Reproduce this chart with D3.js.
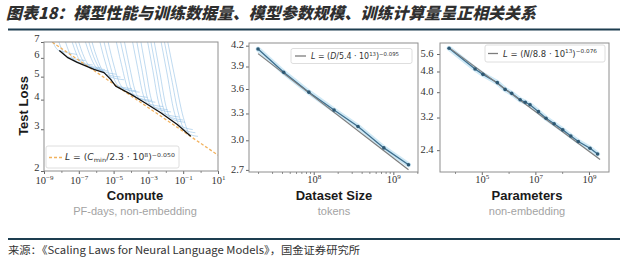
<!DOCTYPE html>
<html><head><meta charset="utf-8">
<script src="https://cdn.jsdelivr.net/npm/d3@7"></script>
<style>
html,body{margin:0;padding:0;background:#fff;}
svg{display:block;}
</style></head><body>
<svg id="chart" width="627" height="264"></svg>
<script>
// ---------- text ----------
const titleText = "图表18：模型性能与训练数据量、模型参数规模、训练计算量呈正相关关系";
const sourceText = "来源：《Scaling Laws for Neural Language Models》，国金证券研究所";

// ---------- Compute panel ----------
const computeTickExp = [-9, -7, -5, -3, -1, 1];
const computeMinorExp = [-8, -6, -4, -2, 0];
const computeLossTicks = [2, 3, 4, 5, 6, 7];
// compute-efficient frontier: log10(PF-days), test loss
const frontierExp  = [-8.12, -7.66, -7.09, -6.13, -5.55, -5.17, -4.88, -4.02, -3.25, -2.29, -1.34, -0.57];
const frontierLoss = [6.45, 6.03, 5.74, 5.37, 5.20, 4.87, 4.56, 4.22, 3.90, 3.52, 3.14, 2.80];
// learning curves of individual models: [log10(PF-days), test loss]
const learningCurves = [
  [[-8.70,7.8],[-8.40,6.78],[-8.18,6.46],[-8.00,6.40],[-7.10,6.20]],
  [[-8.34,7.8],[-8.00,6.57],[-7.76,6.14],[-7.55,6.04],[-6.65,5.85]],
  [[-7.95,7.8],[-7.59,6.44],[-7.33,5.93],[-7.10,5.80],[-6.20,5.60]],
  [[-7.57,7.8],[-7.18,6.35],[-6.90,5.78],[-6.65,5.63],[-5.75,5.45]],
  [[-7.38,7.8],[-6.98,6.30],[-6.68,5.70],[-6.42,5.50],[-5.50,5.36]],
  [[-7.19,7.8],[-6.78,6.26],[-6.47,5.63],[-6.20,5.45],[-5.30,5.28]],
  [[-6.80,7.8],[-6.37,6.18],[-6.04,5.51],[-5.75,5.32],[-4.85,5.12]],
  [[-6.60,7.8],[-6.15,6.08],[-5.80,5.40],[-5.50,5.15],[-4.60,4.98]],
  [[-6.42,7.8],[-5.96,6.02],[-5.61,5.26],[-5.30,5.03],[-4.40,4.85]],
  [[-5.94,7.8],[-5.49,5.79],[-5.15,4.88],[-4.85,4.60],[-3.95,4.45]],
  [[-5.70,7.8],[-5.25,5.74],[-4.92,4.80],[-4.62,4.50],[-3.70,4.36]],
  [[-5.46,7.8],[-5.02,5.71],[-4.69,4.75],[-4.40,4.44],[-3.50,4.30]],
  [[-4.98,7.8],[-4.55,5.63],[-4.23,4.55],[-3.95,4.23],[-3.05,4.09]],
  [[-4.74,7.8],[-4.30,5.58],[-4.00,4.44],[-3.72,4.10],[-2.80,3.97]],
  [[-4.50,7.8],[-4.09,5.54],[-3.77,4.38],[-3.50,4.04],[-2.60,3.90]],
  [[-4.03,7.8],[-3.62,5.45],[-3.31,4.22],[-3.05,3.86],[-2.15,3.74]],
  [[-3.78,7.8],[-3.38,5.40],[-3.08,4.12],[-2.82,3.76],[-1.90,3.63]],
  [[-3.54,7.8],[-3.15,5.37],[-2.85,4.06],[-2.60,3.68],[-1.70,3.55]],
  [[-3.16,7.8],[-2.74,5.29],[-2.42,3.91],[-2.15,3.51],[-1.25,3.38]],
  [[-2.97,7.8],[-2.54,5.24],[-2.20,3.83],[-1.92,3.42],[-1.00,3.28]],
  [[-2.78,7.8],[-2.34,5.19],[-1.99,3.75],[-1.70,3.33],[-0.90,3.21]],
  [[-2.39,7.8],[-1.91,5.07],[-1.53,3.58],[-1.20,3.12],[-0.45,2.99]],
  [[-2.20,7.8],[-1.68,4.95],[-1.26,3.47],[-0.90,2.98],[-0.30,2.90]],
  [[-2.01,7.8],[-1.45,4.84],[-0.99,3.36],[-0.60,2.85],[-0.15,2.80]]
];
const computeFit = {scale: 2.3e8, exponent: 0.050};

// ---------- Dataset size panel ----------
const datasetTokens = [2.0e7, 4.2e7, 8.7e7, 1.8e8, 3.6e8, 7.6e8, 1.55e9];
const datasetLoss   = [4.15, 3.82, 3.56, 3.34, 3.15, 2.92, 2.75];
const datasetTickExp = [8, 9];
const datasetLossTicks = [2.7, 3.0, 3.3, 3.6, 3.9, 4.2];
const datasetFit = {scale: 5.4e13, exponent: 0.095};

// ---------- Parameters panel ----------
const paramCounts = [6.0e3, 5.6e4, 1.1e5, 3.8e5, 7.4e5, 1.3e6, 2.7e6, 4.2e6, 6.3e6,
                     1.3e7, 2.5e7, 5.0e7, 1.05e8, 2.1e8, 4.0e8, 1.1e9, 2.1e9];
const paramLoss   = [5.89, 4.91, 4.68, 4.35, 4.10, 3.96, 3.74, 3.66, 3.58,
                     3.37, 3.18, 3.03, 2.87, 2.72, 2.59, 2.44, 2.32];
const paramTickExp = [5, 7, 9];
const paramLossTicks = [2.4, 3.2, 4.0, 4.8, 5.6];
const paramFit = {scale: 8.8e13, exponent: 0.076};

// ---------- drawing ----------
const svg = d3.select("#chart");
svg.append("rect").attr("width", 627).attr("height", 264).attr("fill", "#fff");

const SERIF = "'Liberation Serif', 'DejaVu Serif', serif";
const SANS = "'Liberation Sans', Arial, sans-serif";
const CJK = "'Noto Sans CJK SC', sans-serif";

// header
svg.append("text")
  .attr("x", 6).attr("y", 19)
  .attr("font-family", CJK).attr("font-weight", 900).attr("font-style", "italic")
  .attr("font-size", 16).attr("fill", "#2f2f2f")
  .attr("textLength", 530).attr("lengthAdjust", "spacingAndGlyphs")
  .text(titleText);
svg.append("line").attr("x1", 8).attr("x2", 620).attr("y1", 29.5).attr("y2", 29.5)
  .attr("stroke", "#1d3d50").attr("stroke-width", 2);

// footer
svg.append("line").attr("x1", 8).attr("x2", 620).attr("y1", 239).attr("y2", 239)
  .attr("stroke", "#1d3d50").attr("stroke-width", 2);
svg.append("text")
  .attr("x", 8).attr("y", 254)
  .attr("font-family", CJK).attr("font-size", 10.5).attr("fill", "#333")
  .attr("textLength", 352).attr("lengthAdjust", "spacingAndGlyphs")
  .text(sourceText);

const fmtExp = n => (n < 0 ? "\u2212" + Math.abs(n) : String(n));

function richText(sel, parts, size) {
  // parts: [text, kind] with kind in "", "i", "sup", "sub"
  let offset = 0;
  parts.forEach(([t, kind]) => {
    const ts = sel.append("tspan").text(t);
    let target = 0;
    if (kind === "sup") { target = -size * 0.42; ts.attr("font-size", size * 0.68); }
    if (kind === "sub") { target = size * 0.25; ts.attr("font-size", size * 0.72); }
    if (kind === "i") ts.attr("font-style", "italic");
    if (target !== offset) { ts.attr("dy", target - offset); offset = target; }
  });
}

function drawPanel(cfg) {
  const g = svg.append("g");
  const {x, y} = cfg;
  const [x0, x1] = x.range();
  const [y1, y0] = y.range();
  const clipId = "clip-" + cfg.id;
  svg.append("clipPath").attr("id", clipId)
    .append("rect").attr("x", x0).attr("y", y0).attr("width", x1 - x0).attr("height", y1 - y0);

  // x axis (major + minor ticks)
  const xa = g.append("g").attr("transform", `translate(0,${y1})`)
    .call(d3.axisBottom(x).tickValues(cfg.xMajor).tickSize(3).tickPadding(cfg.xPad));
  xa.select(".domain").remove();
  xa.selectAll(".tick line").attr("stroke", "#666");
  xa.selectAll(".tick text").attr("font-family", SERIF).attr("font-size", 10.5).attr("fill", "#333")
    .each(function(d) {
      const t = d3.select(this).text(null);
      t.append("tspan").text("10");
      t.append("tspan").attr("dy", -4).attr("font-size", 7)
        .text(fmtExp(Math.round(Math.log10(d))));
    });
  g.append("g").attr("transform", `translate(0,${y1})`)
    .call(d3.axisBottom(x).tickValues(cfg.xMinor).tickSize(1.8).tickFormat(""))
    .call(s => { s.select(".domain").remove(); s.selectAll("line").attr("stroke", "#777"); });

  // y axis
  const ya = g.append("g").attr("transform", `translate(${x0},0)`)
    .call(d3.axisLeft(y).tickValues(cfg.yTicks).tickSize(3).tickPadding(cfg.yPad)
      .tickFormat(cfg.yFmt));
  ya.select(".domain").remove();
  ya.selectAll(".tick line").attr("stroke", "#666");
  ya.selectAll(".tick text").attr("font-family", SERIF).attr("font-size", 10.5).attr("fill", "#333")
    .attr("dy", cfg.yDy);

  // plot content
  const plot = g.append("g").attr("clip-path", `url(#${clipId})`);
  cfg.draw(plot);

  // frame
  g.append("rect").attr("x", x0).attr("y", y0).attr("width", x1 - x0).attr("height", y1 - y0)
    .attr("fill", "none").attr("stroke", "#8e8e8e").attr("stroke-width", 1);

  // legend
  const L = cfg.legend;
  g.append("rect").attr("x", L.box[0]).attr("y", L.box[1])
    .attr("width", L.box[2] - L.box[0]).attr("height", L.box[3] - L.box[1])
    .attr("rx", 2).attr("fill", "#fff").attr("fill-opacity", 0.9)
    .attr("stroke", "#d6d6d6").attr("stroke-width", 0.8);
  g.append("line").attr("x1", L.sample[0]).attr("x2", L.sample[1])
    .attr("y1", L.sampleY).attr("y2", L.sampleY)
    .attr("stroke", L.color).attr("stroke-width", 1.3)
    .attr("stroke-dasharray", L.dash || null);
  const lt = g.append("text").attr("x", L.textX).attr("y", L.textY)
    .attr("font-family", "'DejaVu Sans', sans-serif").attr("font-size", 8).attr("fill", "#333");
  richText(lt, L.parts, 8);
  lt.attr("textLength", L.textLen).attr("lengthAdjust", "spacingAndGlyphs");

  // titles
  g.append("text").attr("x", cfg.titleX).attr("y", 199.5).attr("text-anchor", "middle")
    .attr("font-family", SANS).attr("font-weight", "bold").attr("font-size", 13).attr("fill", "#1a1a1a")
    .text(cfg.title);
  g.append("text").attr("x", cfg.titleX).attr("y", 214.5).attr("text-anchor", "middle")
    .attr("font-family", SANS).attr("font-size", 11).attr("fill", "#a3a3a3")
    .text(cfg.subtitle);
}

// Compute panel
const xC = d3.scaleLog().domain([1e-9, 1e1]).range([44, 218]);
const yC = d3.scaleLog().domain([2, 7]).range([171, 42]);
drawPanel({
  id: "compute", x: xC, y: yC,
  xMajor: computeTickExp.map(e => Math.pow(10, e)),
  xMinor: computeMinorExp.map(e => Math.pow(10, e)),
  xPad: 2.5,
  yTicks: computeLossTicks, yFmt: d3.format("d"), yPad: 1.5, yDy: "-0.05em",
  title: "Compute", subtitle: "PF-days, non-embedding", titleX: 135,
  legend: {
    box: [46, 146, 179, 168], sample: [49, 62], sampleY: 157.5, color: "#f2b25e", dash: "3,2",
    textX: 65, textY: 160, textLen: 110,
    parts: [["L", "i"], [" = (", ""], ["C", "i"], ["min", "sub"], ["/2.3 \u00b7 10", ""], ["8", "sup"], [")", ""], ["\u22120.050", "sup"]]
  },
  draw: p => {
    const smooth = d3.line().x(d => xC(Math.pow(10, d[0]))).y(d => yC(d[1])).curve(d3.curveMonotoneX);
    const straight = d3.line().x(d => xC(Math.pow(10, d[0]))).y(d => yC(d[1]));
    p.selectAll(".lc").data(learningCurves).join("path")
      .attr("d", smooth).attr("fill", "none")
      .attr("stroke", "#86b9e3").attr("stroke-opacity", 0.7).attr("stroke-width", 0.75);
    const fx = [1e-9, 1e1];
    p.append("path")
      .attr("d", d3.line().x(c => xC(c)).y(c => yC(Math.pow(c / computeFit.scale, -computeFit.exponent)))(fx))
      .attr("fill", "none").attr("stroke", "#f2b25e").attr("stroke-width", 1.3).attr("stroke-dasharray", "3,2");
    p.append("path")
      .attr("d", straight(frontierExp.map((e, i) => [e, frontierLoss[i]])))
      .attr("fill", "none").attr("stroke", "#111").attr("stroke-width", 1.3)
      .attr("stroke-linejoin", "round");
  }
});
// y title for compute panel
svg.append("text").attr("transform", "translate(28,106) rotate(-90)").attr("text-anchor", "middle")
  .attr("font-family", SANS).attr("font-weight", "bold").attr("font-size", 13).attr("fill", "#1a1a1a")
  .text("Test Loss");

// Dataset panel
const xD = d3.scaleLog().domain([1.54e7, 2.04e9]).range([249, 418]);
const yD = d3.scaleLog().domain([2.68, 4.24]).range([172, 43]);
function minorTicks(scale) {
  const [a, b] = scale.domain();
  const out = [];
  for (let e = Math.floor(Math.log10(a)); e <= Math.ceil(Math.log10(b)); e++)
    for (let m = 2; m <= 9; m++) { const v = m * Math.pow(10, e); if (v >= a && v <= b) out.push(v); }
  return out;
}
function seriesPanel(p, xs, ys, data, vals, fit, range) {
  const pts = data.map((d, i) => [d, vals[i]]);
  const line = d3.line().x(d => xs(d[0])).y(d => ys(d[1]));
  p.append("path").attr("d", line(pts)).attr("fill", "none")
    .attr("stroke", "#cfe9f6").attr("stroke-width", 5).attr("stroke-linecap", "round");
  p.append("path").attr("d", line(pts)).attr("fill", "none")
    .attr("stroke", "#3f6f8e").attr("stroke-width", 1.3);
  p.append("path")
    .attr("d", line(range.map(v => [v, Math.pow(v / fit.scale, -fit.exponent)])))
    .attr("fill", "none").attr("stroke", "#7d7d7d").attr("stroke-width", 1.2);
  p.selectAll(".pt").data(pts).join("circle")
    .attr("cx", d => xs(d[0])).attr("cy", d => ys(d[1])).attr("r", 1.8).attr("fill", "#2e5873");
}
drawPanel({
  id: "dataset", x: xD, y: yD,
  xMajor: datasetTickExp.map(e => Math.pow(10, e)), xMinor: minorTicks(xD), xPad: 1,
  yTicks: datasetLossTicks, yFmt: d3.format(".1f"), yPad: 2, yDy: "0.2em",
  title: "Dataset Size", subtitle: "tokens", titleX: 334,
  legend: {
    box: [291, 48.5, 412, 63.5], sample: [295, 306], sampleY: 56, color: "#7d7d7d",
    textX: 311, textY: 59, textLen: 88,
    parts: [["L", "i"], [" = (", ""], ["D", "i"], ["/5.4 \u00b7 10", ""], ["13", "sup"], [")", ""], ["\u22120.095", "sup"]]
  },
  draw: p => seriesPanel(p, xD, yD, datasetTokens, datasetLoss, datasetFit, [2.0e7, 1.55e9])
});

// Parameters panel
const xP = d3.scaleLog().domain([2.75e3, 5.6e9]).range([440, 609]);
const yP = d3.scaleLog().domain([1.98, 6.17]).range([172, 43]);
drawPanel({
  id: "params", x: xP, y: yP,
  xMajor: paramTickExp.map(e => Math.pow(10, e)),
  xMinor: [4, 6, 8].map(e => Math.pow(10, e)), xPad: 1,
  yTicks: paramLossTicks, yFmt: d3.format(".1f"), yPad: 3.5, yDy: "0.2em",
  title: "Parameters", subtitle: "non-embedding", titleX: 527,
  legend: {
    box: [485, 45, 605, 62], sample: [488, 498], sampleY: 53.5, color: "#7d7d7d",
    textX: 503, textY: 56.5, textLen: 94,
    parts: [["L", "i"], [" = (", ""], ["N", "i"], ["/8.8 \u00b7 10", ""], ["13", "sup"], [")", ""], ["\u22120.076", "sup"]]
  },
  draw: p => seriesPanel(p, xP, yP, paramCounts, paramLoss, paramFit, [6.0e3, 2.6e9])
});
</script>
</body></html>
